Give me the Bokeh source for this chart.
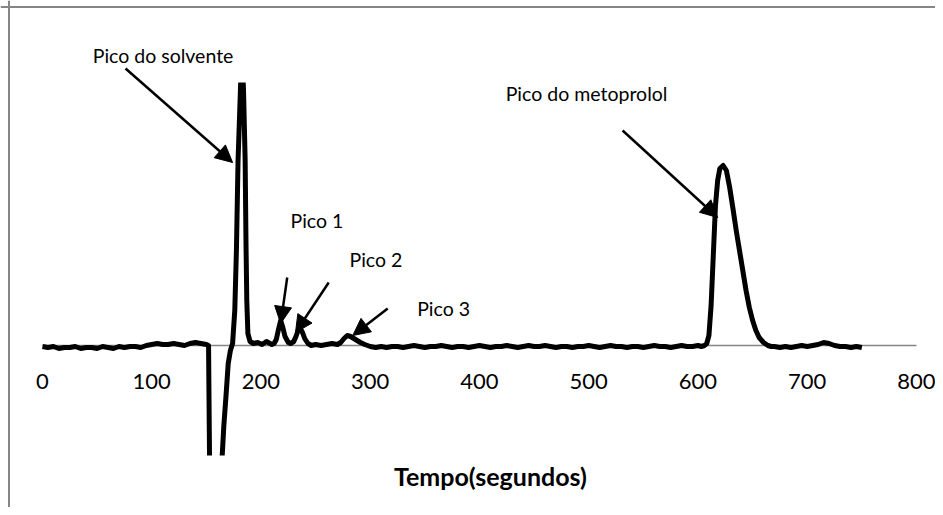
from bokeh.plotting import figure
from bokeh.models import Range1d, Label, Arrow, NormalHead, FixedTicker, BoxAnnotation, Span
from bokeh.embed import file_html
from bokeh.resources import INLINE

# ---- data (time in s, detector signal in arbitrary units) ----
t_pre = list(range(0, 151, 5))
y_pre = [-1, -2, -1, -3, -2, -2, -1, -3, -2, -2, -3, -1, -2, -3, -1, -2, -1, -1, -2, 0,
         1, 2, 1, 1, 2, 1, 0, 2, 3, 2, 1]

t_solv = [152, 154, 158, 161, 164, 166, 168, 170, 172, 174, 176, 177.5, 179, 181, 182.5,
          184, 185.5, 186.3, 187, 188, 190, 193, 197, 201, 205, 210]
y_solv = [0, -250, -420, -300, -120, -80, -50, -18, -5, 2, 35, 95, 185, 250, 300,
          255, 185, 100, 45, 12, 4, 2, 3, 1, 4, 1]

t_small = [212, 214, 216, 218, 220, 222, 225, 227, 230, 232, 234, 236, 238, 240, 243,
           246, 250, 255, 260, 265, 270, 273, 276, 279, 282, 285, 288, 291, 295, 300]
y_small = [2, 6, 16, 25, 18, 9, 3, 2, 4, 9, 15, 17, 13, 7, 2,
           0, 1, 0, 1, 2, 1, 3, 7, 10, 9, 7, 5, 3, 1, -1]

t_mid = list(range(305, 601, 5))
y_mid = [-2, -1, -2, -1, -1, -2, -1, 0, -1, -2,
         -1, -1, 0, -1, -2, -1, -1, -2, -1, 0,
         -1, -2, -1, -1, 0, -1, -2, -1, 0, -1,
         -1, 0, -1, -2, -1, -1, -2, -1, -1, 0,
         -1, -2, -1, 0, -1, -1, -2, -1, -1, -2,
         -1, 0, -1, -1, -2, -1, 0, -1, -1, 0]

t_meto = [603, 606, 608, 610, 612, 614, 616, 618, 620, 623, 626, 629, 632, 635, 638,
          641, 644, 647, 650, 653, 656, 660, 664, 667]
y_meto = [-1, 0, 2, 10, 40, 90, 140, 165, 177, 180, 175, 158, 137, 115, 95,
          75, 55, 38, 25, 15, 8, 3, 0, -1]

t_tail = list(range(670, 751, 5))
y_tail = [-1, -2, -1, -2, -1, 0, -1, 0, 1, 3, 2, 0, -1, -1, -2, -1, -2]

x_ticks = [0, 100, 200, 300, 400, 500, 600, 700, 800]
x_label = "Tempo(segundos)"

# annotation texts: (text, x, y) and arrows (x_start, y_start, x_end, y_end)
notes = [("Pico do solvente", 46, 290), ("Pico do metoprolol", 424, 252),
         ("Pico 1", 227, 125), ("Pico 2", 281, 86), ("Pico 3", 343, 37)]
arrows = [(76, 277, 174, 183), (531, 215, 618, 128), (224, 68, 218, 22),
          (262, 63, 231.6, 13), (316, 37, 284, 10)]

# plot-area limits of the original chart (signal beyond them is cut off)
area_top, area_bottom = 263, -110
# chart-area border (left / top edges)
border_x, border_y = -30.66, 338.5

t = t_pre + t_solv + t_small + t_mid + t_meto + t_tail
y = y_pre + y_solv + y_small + y_mid + y_meto + y_tail

FONT = "Lato"
GREY = "#868686"

p = figure(width=935, height=507, x_range=Range1d(-38.44, 817.4), y_range=Range1d(-162, 345),
           output_backend="svg", toolbar_location=None, y_axis_location=None,
           min_border_left=0, min_border_right=0, min_border_top=0, min_border_bottom=0)
p.title.visible = False
p.xgrid.visible = False
p.ygrid.visible = False
p.outline_line_color = None
p.background_fill_color = "white"
p.border_fill_color = "white"

ax = p.xaxis[0]
ax.fixed_location = 0
ax.bounds = (x_ticks[0], x_ticks[-1])
ax.ticker = FixedTicker(ticks=x_ticks)
ax.major_tick_in = 0
ax.major_tick_out = 0
ax.minor_tick_in = 0
ax.minor_tick_out = 0
ax.axis_line_color = GREY
ax.axis_line_width = 1.5
ax.major_label_text_font = FONT
ax.major_label_text_font_size = "22px"
ax.major_label_text_color = "black"
ax.major_label_standoff = 28
ax.level = "underlay"

p.line(t, y, line_color="black", line_width=5, line_join="round")

# white masks = the original chart's plot-area clipping
p.add_layout(BoxAnnotation(bottom=area_top, fill_color="white", fill_alpha=1, line_color=None))
p.add_layout(BoxAnnotation(top=area_bottom, fill_color="white", fill_alpha=1, line_color=None))

p.add_layout(Span(location=border_x, dimension="height", line_color=GREY, line_width=2))
p.add_layout(Span(location=border_y, dimension="width", line_color=GREY, line_width=2))

p.add_layout(Label(x=410, y=-130, text=x_label, text_font=FONT, text_font_size="25px",
                   text_font_style="bold", text_color="black", text_align="center",
                   text_baseline="middle"))

for (txt, lx, ly) in notes:
    p.add_layout(Label(x=lx, y=ly, text=txt, text_font=FONT, text_font_size="19.5px",
                       text_color="black", text_align="left", text_baseline="middle"))
for (xs, ys, xe, ye) in arrows:
    p.add_layout(Arrow(x_start=xs, y_start=ys, x_end=xe, y_end=ye, line_width=2.5,
                       line_color="black",
                       end=NormalHead(size=17, fill_color="black", line_color="black")))

open("out.html", "w").write(file_html(p, INLINE))
